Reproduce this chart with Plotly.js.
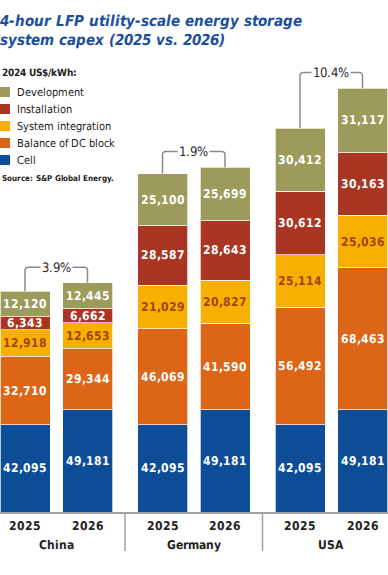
<!DOCTYPE html>
<html>
<head>
<meta charset="utf-8">
<script src="https://cdn.plot.ly/plotly-3.0.1.min.js"></script>
<style>
@font-face { font-family: 'NarrowX'; font-weight: 400; font-style: normal;
  src: local('DejaVu Sans Condensed'), local('DejaVuSansCondensed'); }
@font-face { font-family: 'NarrowX'; font-weight: 700; font-style: normal;
  src: local('DejaVu Sans Condensed Bold'), local('DejaVuSansCondensed-Bold'); }
@font-face { font-family: 'NarrowX'; font-weight: 700; font-style: italic;
  src: local('DejaVu Sans Condensed Bold Oblique'), local('DejaVuSansCondensed-BoldOblique'); }
html,body{margin:0;padding:0;background:#fff;}#chart{width:388px;height:575px;}
</style>
</head>
<body>
<div id="chart"></div>
<script>
// ---- data ----
const countries = ['China', 'Germany', 'USA'];
const years = ['2025', '2026'];
const seriesNames = ['Cell', 'Balance of DC block', 'System integration', 'Installation', 'Development'];
const cell      = [42095, 49181, 42095, 49181, 42095, 49181];
const balanceDC = [32710, 29344, 46069, 41590, 56492, 68463];
const sysInt    = [12918, 12653, 21029, 20827, 25114, 25036];
const install   = [6343, 6662, 28587, 28643, 30612, 30163];
const dev       = [12120, 12445, 25100, 25699, 30412, 31117];
const unitLabel = '2024 US$/kWh:';
const sourceText = 'Source: S&P Global Energy.';
const titleText = '4-hour LFP utility-scale energy storage<br>system capex (2025 vs. 2026)';

// ---- styles ----
const FONT = "NarrowX, Roboto, sans-serif";
const colors = ['#0d4c97', '#dc6517', '#f8b000', '#a93622', '#9c9b5c'];
const textColors = ['#ffffff', '#ffffff', '#a3420f', '#ffffff', '#ffffff'];
const GROUP_STEP = 2.2;
const W = 388, H = 575, MT = 60, MB = 63;
const py = p => (H - MB - p) / (H - MT - MB);   // pixel row -> paper y
const px = p => p / W;

const seriesVals = [cell, balanceDC, sysInt, install, dev];
const xs = [], yearLabels = [];
countries.forEach((c, g) => years.forEach((y, k) => { xs.push(g * GROUP_STEP + k); yearLabels.push(y); }));
const fmt = v => v.toLocaleString('en-US');

const traces = seriesVals.map((vals, s) => ({
  type: 'bar',
  name: seriesNames[s],
  x: xs,
  y: vals,
  width: 0.8,
  marker: { color: colors[s], line: { color: 'rgba(255,255,255,0.7)', width: 1 } },
  text: vals.map(fmt),
  textposition: 'inside',
  insidetextanchor: 'middle',
  textangle: 0,
  textfont: { family: FONT, size: 11.5, color: textColors[s], weight: 700 },
  showlegend: false,
  hoverinfo: 'skip'
}));

const totals = xs.map((_, i) => seriesVals.reduce((a, v) => a + v[i], 0));

const shapes = [];
const annotations = [];

// brackets with growth %
const OFF = 7500, RX = 0.06, RY = 1500;
countries.forEach((c, g) => {
  const i0 = g * 2, i1 = g * 2 + 1;
  const x0 = xs[i0], x1 = xs[i1];
  const yA = totals[i0], yB = totals[i1];
  const yT = Math.max(yA, yB) + OFF;
  shapes.push({
    type: 'path', xref: 'x', yref: 'y',
    path: `M ${x0},${yA} L ${x0},${yT - RY} Q ${x0},${yT} ${x0 + RX},${yT} L ${x1 - RX},${yT} Q ${x1},${yT} ${x1},${yT - RY} L ${x1},${yB}`,
    line: { color: '#8a8a8a', width: 1.5 }
  });
  const pct = ((yB / yA - 1) * 100).toFixed(1) + '%';
  annotations.push({
    xref: 'x', yref: 'y', x: (x0 + x1) / 2, y: yT, text: pct, showarrow: false,
    bgcolor: '#ffffff', borderpad: 1,
    font: { family: FONT, size: 13, color: '#2b2b2b' }
  });
  annotations.push({
    xref: 'x', yref: 'paper', x: (x0 + x1) / 2, y: py(545), yanchor: 'middle', text: c, showarrow: false,
    font: { family: FONT, size: 12, color: '#222222', weight: 700 }
  });
  if (g < countries.length - 1) {
    const xs_ = (x1 + xs[i1 + 1]) / 2;
    shapes.push({ type: 'line', xref: 'x', yref: 'paper', x0: xs_, x1: xs_, y0: 0, y1: py(551),
      line: { color: '#a0a0a0', width: 1.5 } });
  }
});

// manual legend, Development on top
annotations.push({ xref: 'paper', yref: 'paper', x: 0, xanchor: 'left', y: py(72), yanchor: 'middle',
  text: '<b>' + unitLabel + '</b>', showarrow: false, font: { family: FONT, size: 10, color: '#222' } });
const legendOrder = [4, 3, 2, 1, 0];
legendOrder.forEach((s, k) => {
  const cy = 92 + k * 17;
  shapes.push({ type: 'rect', xref: 'paper', yref: 'paper', x0: 0, x1: px(10), y0: py(cy + 5), y1: py(cy - 5),
    fillcolor: colors[s], line: { width: 0 } });
  annotations.push({ xref: 'paper', yref: 'paper', x: px(15), xanchor: 'left', y: py(cy), yanchor: 'middle',
    text: seriesNames[s], showarrow: false, font: { family: FONT, size: 11, color: '#222' } });
});
annotations.push({ xref: 'paper', yref: 'paper', x: 0, xanchor: 'left', y: py(178), yanchor: 'middle',
  text: '<b>' + sourceText + '</b>', showarrow: false, font: { family: FONT, size: 8, color: '#222' } });

const layout = {
  width: W, height: H,
  margin: { l: 0, r: 0, t: MT, b: MB, pad: 0 },
  paper_bgcolor: '#ffffff', plot_bgcolor: '#ffffff',
  font: { family: FONT, color: '#222' },
  barmode: 'stack',
  title: {
    text: titleText, x: 0, xanchor: 'left', xref: 'container', y: 0.955, yanchor: 'top', yref: 'container',
    pad: { t: 0, l: 0 },
    font: { family: FONT, size: 14.5, color: '#1b4f9c', weight: 700, style: 'italic' }
  },
  xaxis: {
    range: [-0.4, 5.808], fixedrange: true,
    tickvals: xs, ticktext: yearLabels, ticks: '',
    ticklabelstandoff: 3,
    tickfont: { family: FONT, size: 11.5, color: '#222', weight: 700 },
    showline: true, linecolor: '#a0a0a0', linewidth: 1.5,
    showgrid: false, zeroline: false
  },
  yaxis: { range: [0, 217500], visible: false, fixedrange: true },
  uniformtext: { minsize: 11.5, mode: 'show' },
  shapes: shapes,
  annotations: annotations,
  hovermode: false
};

Plotly.newPlot('chart', traces, layout, { displayModeBar: false, staticPlot: true });
</script>
</body>
</html>
